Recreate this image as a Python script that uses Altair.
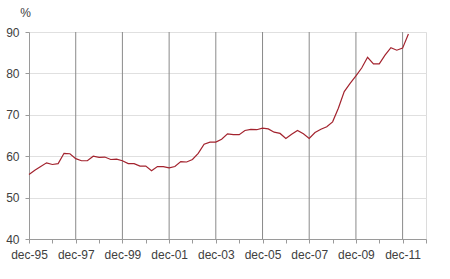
import altair as alt
import pandas as pd

# quarterly observations, dec-95 .. mar-12
start = "1995-12-01"
values = [
    55.6, 56.6, 57.5, 58.4, 58.0, 58.2, 60.7, 60.6, 59.4, 58.9,
    58.9, 60.0, 59.7, 59.8, 59.2, 59.3, 58.9, 58.2, 58.2, 57.6,
    57.6, 56.5, 57.5, 57.5, 57.2, 57.5, 58.7, 58.6, 59.2, 60.7,
    62.9, 63.4, 63.4, 64.1, 65.4, 65.2, 65.2, 66.2, 66.5, 66.4,
    66.8, 66.6, 65.8, 65.5, 64.3, 65.3, 66.2, 65.4, 64.3, 65.7,
    66.5, 67.1, 68.3, 71.6, 75.6, 77.6, 79.4, 81.3, 83.9, 82.3,
    82.3, 84.4, 86.2, 85.6, 86.1, 89.5,
]
tick_years = list(range(1995, 2013))          # a tick every December
grid_years = [1997, 1999, 2001, 2003, 2005, 2007, 2009, 2011]
y_ticks = [40, 50, 60, 70, 80, 90]

dates = pd.date_range(start, periods=len(values), freq="3MS")
df = pd.DataFrame({"date": dates, "value": values})
grid_df = pd.DataFrame({"date": pd.to_datetime([f"{y}-12-01" for y in grid_years])})

FONT = "Liberation Sans"
x_scale = alt.Scale(domain=[alt.DateTime(year=1995, month=12, date=1),
                            alt.DateTime(year=2012, month=12, date=1)])
y_scale = alt.Scale(domain=[40, 90])

x_axis = alt.Axis(
    values=[alt.DateTime(year=y, month=12, date=1) for y in tick_years],
    labelExpr="year(datum.value) % 2 == 1 ? 'dec-' + timeFormat(datum.value, '%y') : ''",
    labelFlush=False, labelOverlap=False, grid=False,
    domainColor="#9a9a9a", tickColor="#9a9a9a", tickSize=4, labelPadding=6,
    labelFont=FONT, labelFontSize=12, labelColor="#404040", title=None,
)
y_axis = alt.Axis(
    values=y_ticks, grid=True, gridColor="#e0e0e0",
    domainColor="#9a9a9a", tickColor="#9a9a9a", tickSize=4, labelPadding=6,
    labelFont=FONT, labelFontSize=12, labelColor="#404040",
    title="%", titleAngle=0, titleAlign="center", titleBaseline="middle",
    titleX=-4, titleY=-20, titleFont=FONT, titleFontSize=12,
    titleFontWeight="normal", titleColor="#404040",
)

grid = alt.Chart(grid_df).mark_rule(color="#8a8a8a", strokeWidth=1).encode(
    x=alt.X("date:T", scale=x_scale, axis=x_axis)
)
line = alt.Chart(df).mark_line(color="#a3232e", strokeWidth=1.2).encode(
    x=alt.X("date:T", scale=x_scale, axis=x_axis),
    y=alt.Y("value:Q", scale=y_scale, axis=y_axis),
)

chart = alt.layer(grid, line).properties(
    width=397, height=207,
    autosize=alt.AutoSizeParams(type="none"),
    padding={"left": 29, "top": 32, "right": 24, "bottom": 40},
    background="white",
).configure_view(stroke="#dcdcdc")

chart.save("out.html", embed_options={"renderer": "svg", "actions": False})
